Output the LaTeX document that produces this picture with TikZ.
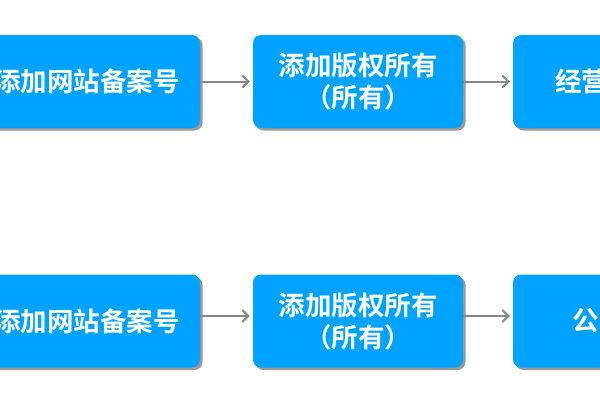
\documentclass[tikz,border=0pt]{standalone}
\usepackage{fontspec}
\newfontfamily\cjk{Noto Sans CJK SC}[BoldFont={Noto Sans CJK SC Bold}]
\usetikzlibrary{shadows,arrows.meta}
\definecolor{boxblue}{RGB}{0,162,255}
\definecolor{arrowgray}{RGB}{136,136,136}
\tikzset{
  flowbox/.style={draw=none, fill=boxblue, rounded corners=8pt, text=white,
    minimum height=93pt, inner sep=0pt, font=\cjk\bfseries\fontsize{26.5}{32}\selectfont,
    drop shadow={shadow xshift=2.5pt, shadow yshift=-2.5pt, fill=black, opacity=0.4}},
  flowarrow/.style={draw=arrowgray, line width=2pt, -{Straight Barb[length=6pt,width=12pt,line width=2pt]}}
}
\begin{document}
\begin{tikzpicture}[x=1pt,y=-1pt]
\useasboundingbox (0,0) rectangle (600,400);
\fill[white] (0,0) rectangle (600,400);
\clip (0,0) rectangle (600,400);
% row 1
\node[flowbox, minimum width=226pt, align=center] (a1) at (87,81.5) {添加网站备案号};
\node[flowbox, minimum width=210pt, align=center, text depth=2pt] (b1) at (358,81.5) {添加版权所有\\（所有）};
\node[flowbox, minimum width=210pt, text width=126pt, inner xsep=42pt, align=left] (c1) at (618,81.5) {经营};
% row 2
\node[flowbox, minimum width=226pt, align=center] (a2) at (87,321) {添加网站备案号};
\node[flowbox, minimum width=210pt, align=center, text depth=2pt] (b2) at (358,321) {添加版权所有\\（所有）};
\node[flowbox, minimum width=210pt, text width=92pt, inner xsep=59pt, align=left] (c2) at (618,321) {公};
% arrows
\draw[flowarrow] (a1.east) -- ([xshift=-3pt]b1.west);
\draw[flowarrow] (b1.east) -- ([xshift=-3pt]c1.west);
\draw[flowarrow] ([yshift=5pt]a2.east) -- ([xshift=-3pt,yshift=5pt]b2.west);
\draw[flowarrow] ([yshift=5pt]b2.east) -- ([xshift=-3pt,yshift=5pt]c2.west);
\end{tikzpicture}
\end{document}
